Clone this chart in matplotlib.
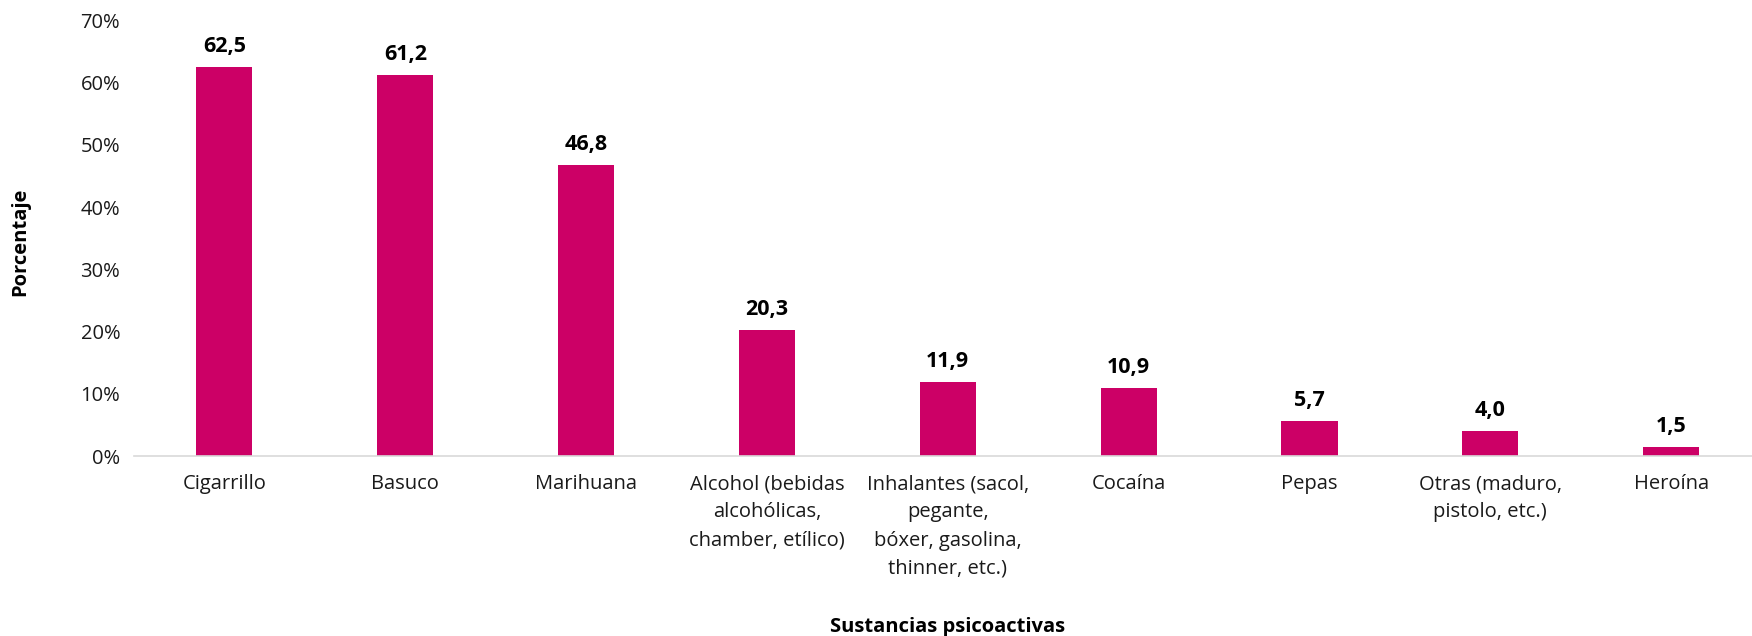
import matplotlib.pyplot as plt
from matplotlib.ticker import FuncFormatter

# datos
sustancias = ['Cigarrillo', 'Basuco', 'Marihuana',
              'Alcohol (bebidas\nalcohólicas,\nchamber, etílico)',
              'Inhalantes (sacol,\npegante,\nbóxer, gasolina,\nthinner, etc.)',
              'Cocaína', 'Pepas', 'Otras (maduro,\npistolo, etc.)', 'Heroína']
porcentajes = [62.5, 61.2, 46.8, 20.3, 11.9, 10.9, 5.7, 4.0, 1.5]
marcas_y = [0, 10, 20, 30, 40, 50, 60, 70]

COLOR = '#CC0066'

plt.rcParams['font.family'] = ['Open Sans', 'DejaVu Sans']

fig = plt.figure(figsize=(17.52, 6.36), dpi=100)
ax = fig.add_axes([0.0765, 0.283, 0.929, 0.685])

x = range(len(sustancias))
barras = ax.bar(x, porcentajes, width=0.31, color=COLOR, zorder=2)

for b, v in zip(barras, porcentajes):
    ax.annotate(('%.1f' % v).replace('.', ','),
                (b.get_x() + b.get_width() / 2, v),
                xytext=(0, 7), textcoords='offset points',
                ha='center', va='bottom', fontsize=15.5, fontweight='bold',
                color='black')

ax.set_xlim(-0.5, len(sustancias) - 0.5)
ax.set_ylim(0, 70)
ax.set_yticks(marcas_y)
ax.yaxis.set_major_formatter(FuncFormatter(lambda v, p: '%d%%' % v))
ax.set_xticks(list(x))
ax.set_xticklabels(sustancias, fontsize=14.5, linespacing=1.55, color='#1a1a1a')
ax.tick_params(axis='y', labelsize=14.5, length=0, pad=10, labelcolor='#1a1a1a')
ax.tick_params(axis='x', length=0, pad=13)

for lado in ['top', 'right', 'left']:
    ax.spines[lado].set_visible(False)
ax.spines['bottom'].set_color('#D9D9D9')
ax.spines['bottom'].set_linewidth(1.2)

ax.set_ylabel('Porcentaje', fontsize=14.5, fontweight='bold')
ax.yaxis.set_label_coords(0.017, 0.62, transform=fig.transFigure)
ax.set_xlabel('Sustancias psicoactivas', fontsize=14.5, fontweight='bold')
ax.xaxis.set_label_coords(0.541, 0.03, transform=fig.transFigure)

fig.savefig('out.png', dpi=100)
